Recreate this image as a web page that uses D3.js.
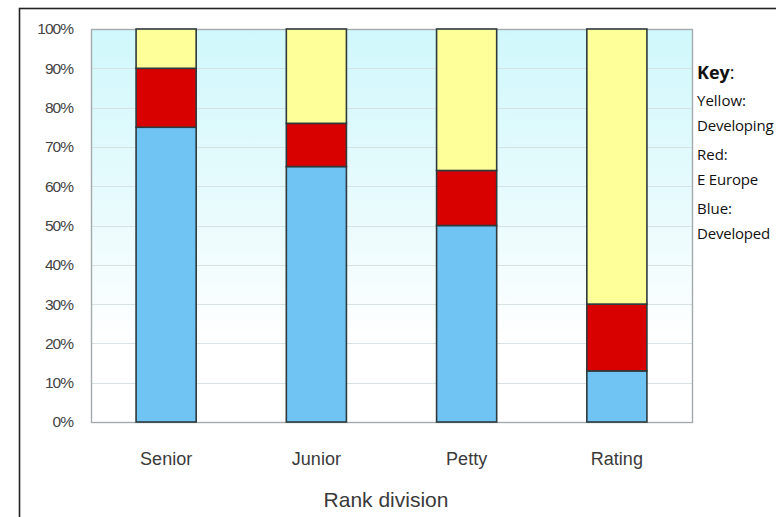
<!DOCTYPE html>
<html>
<head>
<meta charset="utf-8">
<script src="https://cdn.jsdelivr.net/npm/d3@7"></script>
<style>
  html, body { margin: 0; padding: 0; background: #fff; }
  svg { display: block; }
</style>
</head>
<body>
<svg id="chart" width="776" height="517"></svg>
<script>
// Share of officers by region of origin, per rank division (percent)
const categories = ["Senior", "Junior", "Petty", "Rating"];
const developed  = [75, 65, 50, 13];
const eEurope    = [15, 11, 14, 17];
const developing = [10, 24, 36, 70];
const yTicks = [0, 10, 20, 30, 40, 50, 60, 70, 80, 90, 100];
const seriesNames = ["Developed", "E Europe", "Developing"];
const seriesColors = ["#6fc4f4", "#d90000", "#ffff99"];
const keyLines = [["Yellow:", "Developing"], ["Red:", "E Europe"], ["Blue:", "Developed"]];

const svg = d3.select("#chart");
const margin = { left: 91, top: 29, right: 692, bottom: 422 };

// outer frame
svg.append("rect")
  .attr("x", 19.5).attr("y", 8.5)
  .attr("width", 800).attr("height", 600)
  .attr("fill", "none").attr("stroke", "#222").attr("stroke-width", 1.6);

const x = d3.scaleBand().domain(categories)
  .range([margin.left, margin.right]).paddingInner(0.6).paddingOuter(0.3);
const y = d3.scaleLinear().domain([0, 100]).range([margin.bottom, margin.top]);

// plot background fading from pale cyan to white
const defs = svg.append("defs");
const grad = defs.append("linearGradient").attr("id", "bg")
  .attr("x1", 0).attr("y1", 0).attr("x2", 0).attr("y2", 1);
grad.append("stop").attr("offset", "0%").attr("stop-color", "#d0f8fc");
grad.append("stop").attr("offset", "45%").attr("stop-color", "#e8fbfd");
grad.append("stop").attr("offset", "80%").attr("stop-color", "#ffffff");
grad.append("stop").attr("offset", "100%").attr("stop-color", "#ffffff");

svg.append("rect")
  .attr("x", margin.left).attr("y", margin.top)
  .attr("width", margin.right - margin.left).attr("height", margin.bottom - margin.top)
  .attr("fill", "url(#bg)");

// horizontal gridlines
svg.append("g").selectAll("line").data(yTicks.slice(1, -1)).join("line")
  .attr("x1", margin.left).attr("x2", margin.right)
  .attr("y1", d => Math.round(y(d)) + 0.5).attr("y2", d => Math.round(y(d)) + 0.5)
  .attr("stroke", "#d6e2e4").attr("stroke-width", 1);

// plot border
svg.append("rect")
  .attr("x", margin.left + 0.5).attr("y", margin.top + 0.5)
  .attr("width", margin.right - margin.left).attr("height", margin.bottom - margin.top)
  .attr("fill", "none").attr("stroke", "#a4abad").attr("stroke-width", 1.4);

// stacked bars
const rows = categories.map((c, i) => ({ cat: c, Developed: developed[i], "E Europe": eEurope[i], Developing: developing[i] }));
const stack = d3.stack().keys(seriesNames)(rows);
const color = d3.scaleOrdinal().domain(seriesNames).range(seriesColors);

svg.append("g").selectAll("g").data(stack).join("g")
  .attr("fill", d => color(d.key))
  .selectAll("rect").data(d => d).join("rect")
  .attr("x", d => x(d.data.cat))
  .attr("y", d => y(d[1]))
  .attr("width", x.bandwidth())
  .attr("height", d => y(d[0]) - y(d[1]))
  .attr("stroke", "#2e3a3c").attr("stroke-width", 1.6);

// y axis labels
const yAxis = d3.axisLeft(y).tickValues(yTicks).tickFormat(d => d + "%").tickSize(0).tickPadding(18);
const gy = svg.append("g").attr("transform", `translate(${margin.left},0)`).call(yAxis);
gy.select(".domain").remove();
gy.selectAll("text")
  .attr("font-family", "Liberation Sans, Arial, sans-serif")
  .attr("font-size", 15.5).attr("fill", "#444")
  .attr("letter-spacing", -1);

// x axis labels
const xAxis = d3.axisBottom(x).tickSize(0).tickPadding(30);
const gx = svg.append("g").attr("transform", `translate(0,${margin.bottom})`).call(xAxis);
gx.select(".domain").remove();
gx.selectAll("text")
  .attr("font-family", "Liberation Sans, Arial, sans-serif")
  .attr("font-size", 18).attr("fill", "#3a3a3a");

// x axis title
svg.append("text")
  .attr("x", 386).attr("y", 507)
  .attr("text-anchor", "middle")
  .attr("font-family", "Liberation Sans, Arial, sans-serif")
  .attr("font-size", 21).attr("fill", "#3a3a3a")
  .text("Rank division");

// key
const key = svg.append("g").attr("font-family", "Open Sans, Noto Sans, sans-serif").attr("fill", "#111");
const kt = key.append("text").attr("x", 697).attr("y", 79).attr("font-size", 18);
kt.append("tspan").attr("font-weight", "bold").text("Key");
kt.append("tspan").text(":");
keyLines.forEach((pair, i) => {
  key.append("text").attr("x", 697).attr("y", 106 + i * 54).attr("font-size", 15).text(pair[0]);
  key.append("text").attr("x", 697).attr("y", 131 + i * 54).attr("font-size", 15)
    .attr("letter-spacing", -0.2).text(pair[1]);
});
</script>
</body>
</html>
